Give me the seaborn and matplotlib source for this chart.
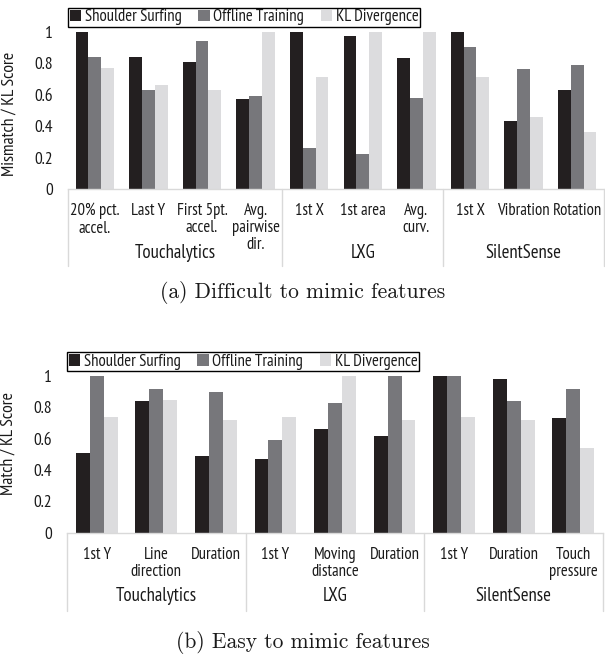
import matplotlib
matplotlib.use("Agg")
import matplotlib.pyplot as plt
import matplotlib.transforms as mtransforms
import pandas as pd
import seaborn as sns

METHODS = ["Shoulder Surfing", "Offline Training", "KL Divergence"]
COLORS = ["#231f20", "#77777b", "#dcdcde"]

# (a) difficult to mimic features
hard_groups = ["Touchalytics"] * 4 + ["LXG"] * 3 + ["SilentSense"] * 3
hard_features = ["20% pct.\naccel.", "Last Y", "First 5pt.\naccel.", "Avg.\npairwise\ndir.",
                 "1st X", "1st area", "Avg.\ncurv.",
                 "1st X", "Vibration", "Rotation"]
hard_shoulder = [1.00, 0.84, 0.81, 0.57, 1.00, 0.97, 0.83, 1.00, 0.43, 0.63]
hard_offline = [0.84, 0.63, 0.94, 0.59, 0.26, 0.22, 0.58, 0.90, 0.76, 0.79]
hard_kl = [0.77, 0.66, 0.63, 1.00, 0.71, 1.00, 1.00, 0.71, 0.46, 0.36]

# (b) easy to mimic features
easy_groups = ["Touchalytics"] * 3 + ["LXG"] * 3 + ["SilentSense"] * 3
easy_features = ["1st Y", "Line\ndirection", "Duration",
                 "1st Y", "Moving\ndistance", "Duration",
                 "1st Y", "Duration", "Touch\npressure"]
easy_shoulder = [0.51, 0.84, 0.49, 0.47, 0.66, 0.62, 1.00, 0.98, 0.73]
easy_offline = [1.00, 0.92, 0.90, 0.59, 0.83, 1.00, 1.00, 0.84, 0.92]
easy_kl = [0.74, 0.85, 0.72, 0.74, 1.00, 0.72, 0.74, 0.72, 0.54]

FONT = ["PT Sans Narrow", "Liberation Sans", "DejaVu Sans"]
TEXT = "#1a1a1a"


def to_long(groups, features, series):
    keys = [f"{g}|{i}" for i, g in enumerate(groups)]
    rows = []
    for method, values in zip(METHODS, series):
        for k, v in zip(keys, values):
            rows.append({"key": k, "method": method, "score": v})
    return pd.DataFrame(rows), keys


def draw_panel(ax, groups, features, series, ylabel, width, ylabel_y,
               label_pad, group_y, sep_y):
    df, keys = to_long(groups, features, series)
    sns.barplot(data=df, x="key", y="score", hue="method", order=keys,
                hue_order=METHODS, palette=COLORS, saturation=1, width=width,
                errorbar=None, linewidth=0, ax=ax)
    ax.set_ylim(0, 1)
    ax.set_xlim(-0.5, len(keys) - 0.5)
    ax.set_yticks([0, 0.2, 0.4, 0.6, 0.8, 1.0])
    ax.set_yticklabels(["0", "0.2", "0.4", "0.6", "0.8", "1"])
    ax.set_xticks(range(len(keys)))
    ax.set_xticklabels(features, linespacing=1.1)
    ax.tick_params(axis="x", length=0, pad=label_pad, labelsize=12,
                   labelcolor=TEXT)
    ax.tick_params(axis="y", length=0, pad=11, labelsize=12.5,
                   labelcolor=TEXT)
    ax.set_xlabel("")
    ax.set_ylabel(ylabel, fontsize=12.8, color=TEXT)
    ax.yaxis.set_label_coords(-0.094, ylabel_y)
    for s in ["top", "right", "left"]:
        ax.spines[s].set_visible(False)
    ax.spines["bottom"].set_color("#d9d9d9")
    ax.spines["bottom"].set_linewidth(1.0)

    # group labels and separators below the category labels
    trans = mtransforms.blended_transform_factory(ax.transData, ax.transAxes)
    bounds = [-0.5]
    names = []
    for i, g in enumerate(groups):
        if i == 0 or g != groups[i - 1]:
            names.append(g)
            if i > 0:
                bounds.append(i - 0.5)
    bounds.append(len(groups) - 0.5)
    for b in bounds:
        ax.plot([b, b], [0, sep_y], transform=trans, color="#d9d9d9",
                lw=1.0, clip_on=False)
    for name, lo, hi in zip(names, bounds[:-1], bounds[1:]):
        ax.text((lo + hi) / 2, group_y, name, transform=trans, ha="center",
                va="center", fontsize=13.5, color=TEXT)

    sns.move_legend(ax, "lower left", bbox_to_anchor=(0.0, 1.03), ncol=3,
                    title=None, frameon=True, fancybox=False, framealpha=1,
                    edgecolor="black", fontsize=12, handlelength=0.7,
                    handleheight=0.7, handletextpad=0.2, columnspacing=1.0,
                    borderpad=0.1, borderaxespad=0, labelcolor=TEXT)
    leg = ax.get_legend()
    leg.get_frame().set_linewidth(1.0)


sns.set_theme(style="white")
plt.rcParams["font.family"] = FONT

fig = plt.figure(figsize=(6.05, 6.58), dpi=100)
ax_top = fig.add_axes([68 / 605, 1 - 189 / 658, 536 / 605, 157.3 / 658])
ax_bot = fig.add_axes([67 / 605, 1 - 532.7 / 658, 536 / 605, 156.7 / 658])

draw_panel(ax_top, hard_groups, hard_features,
           [hard_shoulder, hard_offline, hard_kl],
           "Mismatch / KL Score", 0.72, 0.48, 10, -0.41, -0.49)
draw_panel(ax_bot, easy_groups, easy_features,
           [easy_shoulder, easy_offline, easy_kl],
           "Match / KL Score", 0.70, 0.57, 10, -0.405, -0.50)

fig.text(0.5, 1 - 292 / 658, "(a) Difficult to mimic features",
         ha="center", va="center", fontsize=15.5, family="cmr10", color=TEXT)
fig.text(0.5, 1 - 642 / 658, "(b) Easy to mimic features",
         ha="center", va="center", fontsize=15.5, family="cmr10", color=TEXT)

fig.savefig("out.png", dpi=100)
